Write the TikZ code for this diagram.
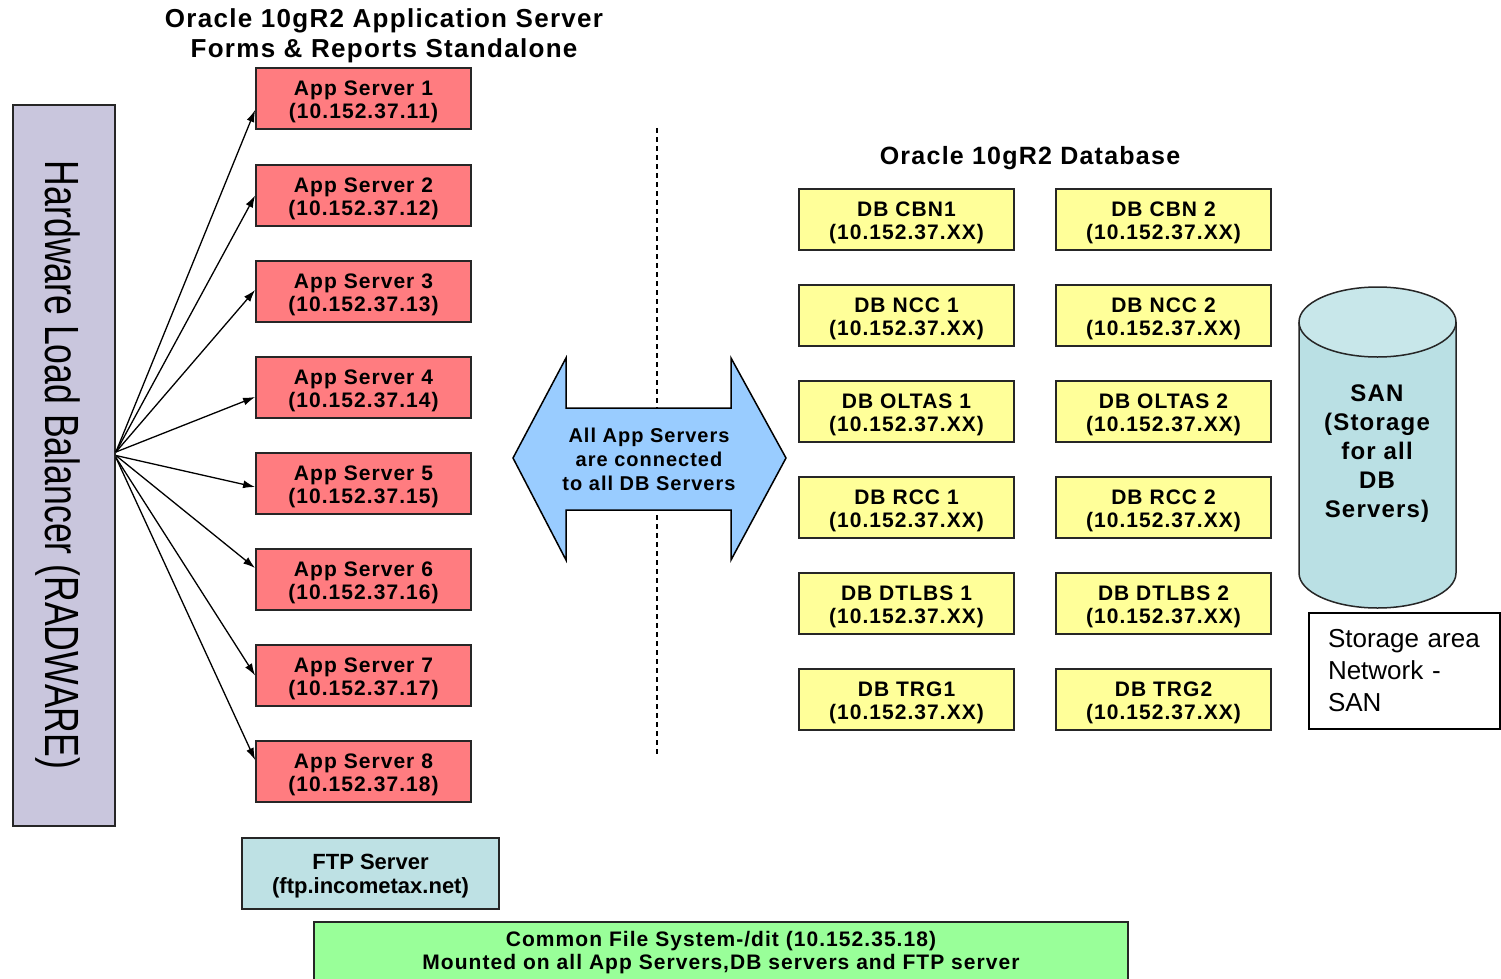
\documentclass[tikz,border=0pt]{standalone}
\usepackage{fontspec}
\setmainfont{Liberation Sans}
\newfontfamily\wb{Liberation Sans}[LetterSpace=5]
\usetikzlibrary{arrows.meta}
\definecolor{appred}{RGB}{255,124,128}
\definecolor{dbyellow}{RGB}{255,255,153}
\definecolor{lbcol}{RGB}{201,198,221}
\definecolor{arrowblue}{RGB}{153,204,255}
\definecolor{cylbody}{RGB}{186,224,228}
\definecolor{cyltop}{RGB}{200,231,234}
\definecolor{ftpcol}{RGB}{190,225,228}
\definecolor{cfscol}{RGB}{153,255,153}
\newcommand{\twolines}[2]{\rule{0pt}{21pt}#1\\#2}
\begin{document}
\begin{tikzpicture}[x=1pt,y=-1pt,
  box/.style={draw=black!85, line width=1.8pt, minimum width=215pt, minimum height=61pt,
    inner sep=0pt, align=center, font=\wb\fontsize{21}{23}\selectfont\bfseries},
  appbox/.style={box, fill=appred},
  dbbox/.style={box, fill=dbyellow},
  conn/.style={line width=1.3pt, -{Latex[length=12pt,width=8pt]}},
  titletext/.style={align=center, font=\wb\fontsize{26}{30}\selectfont\bfseries},
]
\useasboundingbox (0,0) rectangle (1501,979);

% titles
\node[titletext] (apptitle) at (384,36) {Oracle 10gR2 Application Server\\Forms \& Reports Standalone};
\node[font=\wb\fontsize{25}{30}\selectfont\bfseries] (dbtitle) at (1030,158) {Oracle 10gR2 Database};

% load balancer
\node[draw=black!85, fill=lbcol, line width=1.8pt, minimum width=102pt, minimum height=721pt, inner sep=0pt] (lb) at (64,465.5) {};
\node[rotate=-90, anchor=base, inner sep=0pt] (lbtext) at (45,465)
  {\scalebox{0.742}[1]{\fontsize{48}{48}\selectfont Hardware Load Balancer (RADWARE)}};

% app servers
\node[appbox] (as1) at (363.5,98.5) {\twolines{App Server 1}{(10.152.37.11)}};
\node[appbox] (as2) at (363.5,195.5) {\twolines{App Server 2}{(10.152.37.12)}};
\node[appbox] (as3) at (363.5,291.5) {\twolines{App Server 3}{(10.152.37.13)}};
\node[appbox] (as4) at (363.5,387.5) {\twolines{App Server 4}{(10.152.37.14)}};
\node[appbox] (as5) at (363.5,483.5) {\twolines{App Server 5}{(10.152.37.15)}};
\node[appbox] (as6) at (363.5,579.5) {\twolines{App Server 6}{(10.152.37.16)}};
\node[appbox] (as7) at (363.5,675.5) {\twolines{App Server 7}{(10.152.37.17)}};
\node[appbox] (as8) at (363.5,771.5) {\twolines{App Server 8}{(10.152.37.18)}};

% connectors from balancer
\draw[conn] ([yshift=13.5pt]lb.east) -- ([yshift=-11.5pt]as1.west);
\draw[conn] ([yshift=13.5pt]lb.east) -- ([yshift=0pt]as2.west);
\draw[conn] ([yshift=13.5pt]lb.east) -- ([yshift=1.5pt]as3.west);
\draw[conn] ([yshift=13.5pt]lb.east) -- ([yshift=-9.5pt]as4.west);
\draw[conn] ([yshift=10pt]lb.east) -- ([yshift=-3.5pt]as5.west);
\draw[conn] ([yshift=10pt]lb.east) -- ([yshift=11.5pt]as6.west);
\draw[conn] ([yshift=8pt]lb.east) -- ([yshift=0pt]as7.west);
\draw[conn] ([yshift=8pt]lb.east) -- ([yshift=11.5pt]as8.west);

% dashed separator
\coordinate (sepTop) at (657,128);
\coordinate (sepBot) at (657,755);
\draw[line width=1.3pt, dash pattern=on 5pt off 4pt] (sepTop) -- (sepBot);

% double arrow
\draw[fill=arrowblue, line width=1.5pt, line join=miter]
  (513,458) -- (566,358) -- (566,408) -- (731,408) -- (731,358) -- (786,458)
  -- (731,560) -- (731,510) -- (566,510) -- (566,560) -- cycle;
\node[align=center, font=\wb\fontsize{20}{24}\selectfont\bfseries] (conntext) at (649,459)
  {All App Servers\\are connected\\to all DB Servers};

% DB servers
\node[dbbox] (db11) at (906.5,219.5) {\twolines{DB CBN1}{(10.152.37.XX)}};
\node[dbbox] (db12) at (1163.5,219.5) {\twolines{DB CBN 2}{(10.152.37.XX)}};
\node[dbbox] (db21) at (906.5,315.5) {\twolines{DB NCC 1}{(10.152.37.XX)}};
\node[dbbox] (db22) at (1163.5,315.5) {\twolines{DB NCC 2}{(10.152.37.XX)}};
\node[dbbox] (db31) at (906.5,411.5) {\twolines{DB OLTAS 1}{(10.152.37.XX)}};
\node[dbbox] (db32) at (1163.5,411.5) {\twolines{DB OLTAS 2}{(10.152.37.XX)}};
\node[dbbox] (db41) at (906.5,507.5) {\twolines{DB RCC 1}{(10.152.37.XX)}};
\node[dbbox] (db42) at (1163.5,507.5) {\twolines{DB RCC 2}{(10.152.37.XX)}};
\node[dbbox] (db51) at (906.5,603.5) {\twolines{DB DTLBS 1}{(10.152.37.XX)}};
\node[dbbox] (db52) at (1163.5,603.5) {\twolines{DB DTLBS 2}{(10.152.37.XX)}};
\node[dbbox] (db61) at (906.5,699.5) {\twolines{DB TRG1}{(10.152.37.XX)}};
\node[dbbox] (db62) at (1163.5,699.5) {\twolines{DB TRG2}{(10.152.37.XX)}};

% SAN cylinder
\filldraw[fill=cylbody, draw=black!85, line width=1.5pt]
  (1299,322) -- (1299,573) .. controls (1299,592.3) and (1334.1,608) .. (1377.5,608)
  .. controls (1420.9,608) and (1456,592.3) .. (1456,573) -- (1456,322);
\filldraw[fill=cyltop, draw=black!85, line width=1.5pt] (1377.5,322) ellipse [x radius=78.5, y radius=35];
\node[align=center, font=\wb\fontsize{24}{29}\selectfont\bfseries] (san) at (1377,454)
  {SAN\\(Storage\\for all\\DB\\Servers)};

% SAN label box
\node[draw=black, line width=1.3pt, text width=153pt, inner xsep=19pt, inner ysep=0pt,
  minimum height=116pt, align=left, font=\fontsize{26}{32}\selectfont] (sanlabel) at (1404.5,671)
  {Storage area\\Network -\\SAN};

% FTP server
\node[draw=black!85, fill=ftpcol, line width=1.8pt, minimum width=257pt, minimum height=71pt,
  inner sep=0pt, align=center, font=\fontsize{22}{24}\selectfont\bfseries] (ftp) at (370.5,873.5)
  {\rule{0pt}{20pt}FTP Server\\(ftp.incometax.net)};

% common file system
\node[draw=black!85, fill=cfscol, line width=1.8pt, minimum width=814pt, minimum height=62pt,
  inner sep=0pt, align=center, font=\wb\fontsize{21}{23}\selectfont\bfseries] (cfs) at (721,953)
  {Common File System-/dit (10.152.35.18)\\Mounted on all App Servers,DB servers and FTP server};
\end{tikzpicture}
\end{document}
